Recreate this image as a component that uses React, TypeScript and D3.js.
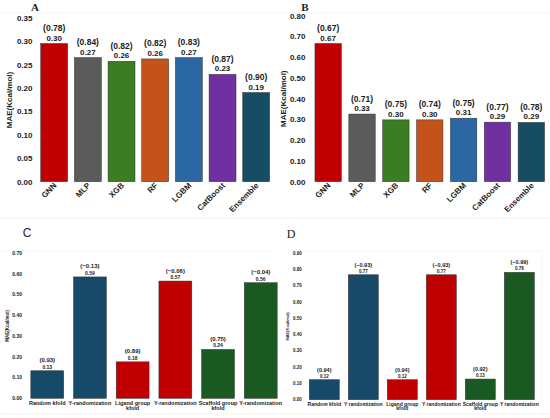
import React from "react";
import * as d3 from "d3";

const modelsAB = ["GNN", "MLP", "XGB", "RF", "LGBM", "CatBoost", "Ensemble"];
const colorsAB = ["#c00000", "#5b5b5b", "#3a7d22", "#c4531b", "#2a67a3", "#7030a0", "#174d63"];
const maeA = [0.296, 0.266, 0.258, 0.263, 0.266, 0.23, 0.191];
const r2A = ["(0.78)", "(0.84)", "(0.82)", "(0.82)", "(0.83)", "(0.87)", "(0.90)"];
const maeB = [0.666, 0.326, 0.298, 0.298, 0.306, 0.287, 0.286];
const r2B = ["(0.67)", "(0.71)", "(0.75)", "(0.74)", "(0.75)", "(0.77)", "(0.78)"];
const ticksA = [0, 0.05, 0.1, 0.15, 0.2, 0.25, 0.3, 0.35];
const ticksB = [0, 0.1, 0.2, 0.3, 0.4, 0.5, 0.6, 0.7, 0.8];

const splitsC = ["Random kfold", "Y-randomization", "Ligand group|kfold", "Y-randomization", "Scaffold group|kfold", "Y-randomization"];
const splitsD = ["Random kfold", "Y randomization", "Ligand group|kfold", "Y randomization", "Scaffold group|kfold", "Y randomization"];
const colorsCD = ["#174a68", "#174a68", "#c00000", "#c00000", "#1a5a22", "#1a5a22"];
const maeC = [0.133, 0.586, 0.176, 0.566, 0.236, 0.558];
const r2C = ["(0.93)", "(\u22120.13)", "(0.89)", "(\u22120.06)", "(0.75)", "(\u22120.04)"];
const maeD = [0.123, 0.768, 0.123, 0.768, 0.127, 0.783];
const r2D = ["(0.94)", "(\u22120.93)", "(0.94)", "(\u22120.93)", "(0.92)", "(\u22120.99)"];
const ticksC = [0, 0.1, 0.2, 0.3, 0.4, 0.5, 0.6, 0.7];
const ticksD = [0, 0.1, 0.2, 0.3, 0.4, 0.5, 0.6, 0.7, 0.8, 0.9];

const SANS = "'Liberation Sans', Arial, sans-serif";
const SERIF = "'Liberation Serif', 'Times New Roman', serif";

type PanelProps = {
  cats: string[];
  vals: number[];
  r2: string[];
  colors: string[];
  ticks: number[];
  yMax: number;
  y0: number;
  y1: number;
  x0: number;
  x1: number;
  pad: number;
  tickX: number;
  tickFs: number;
  labelX: number;
  labelFs: number;
  valFs: number;
  r2Fs: number;
  catFs: number;
  rotated: boolean;
  catY: number;
  valGap: number;
  r2Gap: number;
};

function Panel(p: PanelProps) {
  const y = d3.scaleLinear().domain([0, p.yMax]).range([p.y0, p.y1]);
  const x = d3.scaleBand<number>().domain(p.vals.map((_, i) => i)).range([p.x0, p.x1]).paddingInner(p.pad).paddingOuter(p.pad);
  const bw = x.bandwidth();
  return (
    <g>
      {p.ticks.map((t) => (
        <text key={t} x={p.tickX} y={y(t)} dy="0.35em" textAnchor="end" fontSize={p.tickFs} fontWeight="bold" fill="#222" fontFamily={SANS}>
          {t.toFixed(2)}
        </text>
      ))}
      <text
        transform={`translate(${p.labelX},${(p.y0 + p.y1) / 2}) rotate(-90)`}
        textAnchor="middle"
        fontSize={p.labelFs}
        fontWeight="bold"
        fill="#222"
        fontFamily={SANS}
      >
        MAE(Kcal/mol)
      </text>
      {p.vals.map((v, i) => {
        const bx = x(i)!;
        const cx = bx + bw / 2;
        const top = y(v);
        return (
          <g key={i}>
            <rect x={bx} y={top} width={bw} height={p.y0 - top} fill={p.colors[i]} stroke="#333" strokeWidth={0.5} />
            <text x={cx} y={top - p.valGap} textAnchor="middle" fontSize={p.valFs} fontWeight="bold" fill="#222" fontFamily={SANS}>
              {v.toFixed(2)}
            </text>
            <text x={cx} y={top - p.r2Gap} textAnchor="middle" fontSize={p.r2Fs} fontWeight="bold" fill="#222" fontFamily={SANS}>
              {p.r2[i]}
            </text>
            {p.rotated ? (
              <text
                transform={`translate(${cx + 3},${p.catY}) rotate(-45)`}
                textAnchor="end"
                fontSize={p.catFs}
                fontWeight="bold"
                fill="#222"
                fontFamily={SANS}
              >
                {p.cats[i]}
              </text>
            ) : (
              <text x={cx} y={p.catY} textAnchor="middle" fontSize={p.catFs} fontWeight="bold" fill="#222" fontFamily={SANS}>
                {p.cats[i].split("|").map((s, k) => (
                  <tspan key={k} x={cx} dy={k === 0 ? 0 : p.catFs * 0.95}>
                    {s}
                  </tspan>
                ))}
              </text>
            )}
          </g>
        );
      })}
    </g>
  );
}

export default function App() {
  return (
    <svg width={550} height={418} style={{ position: "absolute", left: 0, top: 0, background: "#fff" }}>
      <rect x={0} y={0} width={550} height={418} fill="#fff" />
      <line x1={0} x2={550} y1={13} y2={13} stroke="#f2f2f2" strokeWidth={0.8} />
      <line x1={0} x2={550} y1={218} y2={218} stroke="#f2f2f2" strokeWidth={0.8} />
      <line x1={0} x2={270} y1={251} y2={251} stroke="#f2f2f2" strokeWidth={0.8} />
      <line x1={288} x2={542} y1={251} y2={251} stroke="#f2f2f2" strokeWidth={0.8} />
      <line x1={542} x2={542} y1={251} y2={414} stroke="#f2f2f2" strokeWidth={0.8} />
      <line x1={0} x2={550} y1={414} y2={414} stroke="#f2f2f2" strokeWidth={0.8} />

      <text x={35} y={11} textAnchor="middle" fontSize={11} fontWeight="bold" fontFamily={SERIF} fill="#222">A</text>
      <text x={305} y={11} textAnchor="middle" fontSize={11} fontWeight="bold" fontFamily={SERIF} fill="#222">B</text>
      <text x={27} y={237} textAnchor="middle" fontSize={12} fontFamily={SANS} fill="#222">C</text>
      <text x={291} y={238} textAnchor="middle" fontSize={12} fontFamily={SERIF} fill="#222">D</text>

      <Panel
        cats={modelsAB} vals={maeA} r2={r2A} colors={colorsAB} ticks={ticksA} yMax={0.35}
        y0={181.7} y1={18.3} x0={34} x1={276.4} pad={0.2}
        tickX={32.5} tickFs={8} labelX={12} labelFs={8} valFs={8} r2Fs={8.5} catFs={8}
        rotated={true} catY={186} valGap={3} r2Gap={12.5}
      />
      <Panel
        cats={modelsAB} vals={maeB} r2={r2B} colors={colorsAB} ticks={ticksB} yMax={0.8}
        y0={181.7} y1={15.7} x0={307.5} x1={552} pad={0.22}
        tickX={305.5} tickFs={8} labelX={286} labelFs={8} valFs={8} r2Fs={8.5} catFs={8}
        rotated={true} catY={186} valGap={3} r2Gap={12.5}
      />
      <Panel
        cats={splitsC} vals={maeC} r2={r2C} colors={colorsCD} ticks={ticksC} yMax={0.7}
        y0={398.3} y1={253.3} x0={21} x1={287} pad={0.23}
        tickX={22} tickFs={5} labelX={8.5} labelFs={4.5} valFs={5} r2Fs={6} catFs={5.5}
        rotated={false} catY={405} valGap={2} r2Gap={8.5}
      />
      <Panel
        cats={splitsD} vals={maeD} r2={r2D} colors={colorsCD} ticks={ticksD} yMax={0.9}
        y0={399.7} y1={253.3} x0={300.3} x1={543.3} pad={0.23}
        tickX={301.7} tickFs={4.5} labelX={289} labelFs={4} valFs={4.5} r2Fs={5.5} catFs={5}
        rotated={false} catY={405.5} valGap={2} r2Gap={8}
      />
    </svg>
  );
}
